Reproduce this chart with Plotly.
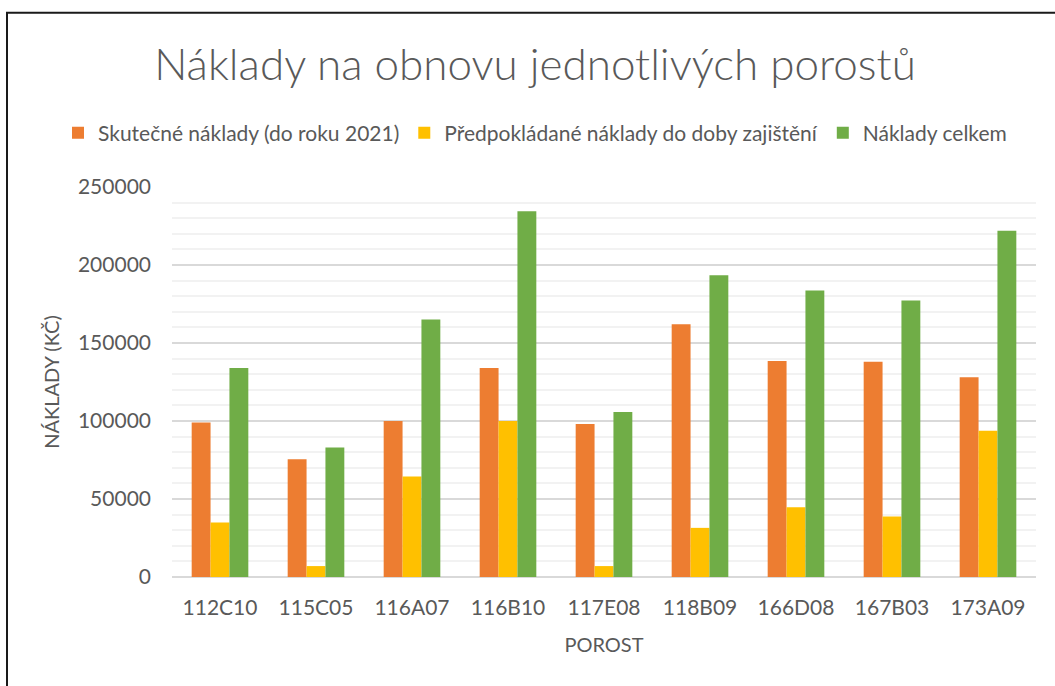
import plotly.graph_objects as go

categories = ["112C10", "115C05", "116A07", "116B10", "117E08", "118B09", "166D08", "167B03", "173A09"]
skutecne = [99000, 75500, 100000, 134000, 98000, 162000, 138500, 138000, 128000]
predpokladane = [35000, 7000, 64500, 100000, 7000, 31500, 44700, 38800, 93700]
celkem = [134000, 83000, 165000, 234500, 105800, 193500, 183700, 177300, 222000]

series_names = ["Skutečné náklady (do roku 2021)", "Předpokládané náklady do doby zajištění", "Náklady celkem"]
colors = ["#ED7D31", "#FFC000", "#70AD47"]

FONT = "Lato"
TXT = "#595959"

fig = go.Figure()
for name, vals, col in zip(series_names, [skutecne, predpokladane, celkem], colors):
    fig.add_trace(go.Bar(x=categories, y=vals, name=name, marker=dict(color=col, line=dict(width=0))))

W, H = 1055, 686
L, R, T, B = 172, 19, 187, 109
pw = W - L - R
ph = H - T - B

def px_x(x):
    return (x - L) / pw

def px_y(y):
    return (H - B - y) / ph

fig.update_layout(
    width=W, height=H,
    margin=dict(l=L, r=R, t=T, b=B, autoexpand=False),
    paper_bgcolor="white", plot_bgcolor="white",
    barmode="group", bargap=0.41, bargroupgap=0,
    font=dict(family=FONT, color=TXT, size=20),
    title=dict(text="Náklady na obnovu jednotlivých porostů", x=535 / W, xanchor="center",
               y=1 - 65 / H, yanchor="middle",
               font=dict(size=44, color=TXT, family=FONT, weight=300)),
    legend=dict(orientation="h", x=px_x(58), xanchor="left",
                y=px_y(133), yanchor="middle",
                font=dict(size=21, color=TXT), itemwidth=30, traceorder="normal",
                tracegroupgap=0),
    xaxis=dict(title=dict(text="POROST", font=dict(size=20, color=TXT), standoff=19),
               tickfont=dict(size=21, color=TXT), showgrid=False, showline=False, ticks="",
               ticklabelstandoff=16),
    yaxis=dict(title=dict(text="NÁKLADY (KČ)", font=dict(size=20, color=TXT), standoff=12),
               range=[0, 250000], dtick=50000, tickformat="d",
               tickfont=dict(size=21, color=TXT),
               showgrid=True, gridcolor="#D9D9D9", gridwidth=1.5,
               zeroline=True, zerolinecolor="#D9D9D9", zerolinewidth=1.5,
               minor=dict(dtick=10000, showgrid=True, gridcolor="#F2F2F2", gridwidth=1.5),
               ticks="", ticklabelstandoff=20),
    shapes=[dict(type="rect", xref="paper", yref="paper",
                 x0=px_x(7), x1=1.2, y0=-0.6, y1=px_y(12.7),
                 line=dict(color="#1a1a1a", width=2), layer="above")],
)

fig.write_html("out.html", config={"displayModeBar": False},
               post_script="document.body.style.margin='0';document.body.style.overflow='hidden';")
